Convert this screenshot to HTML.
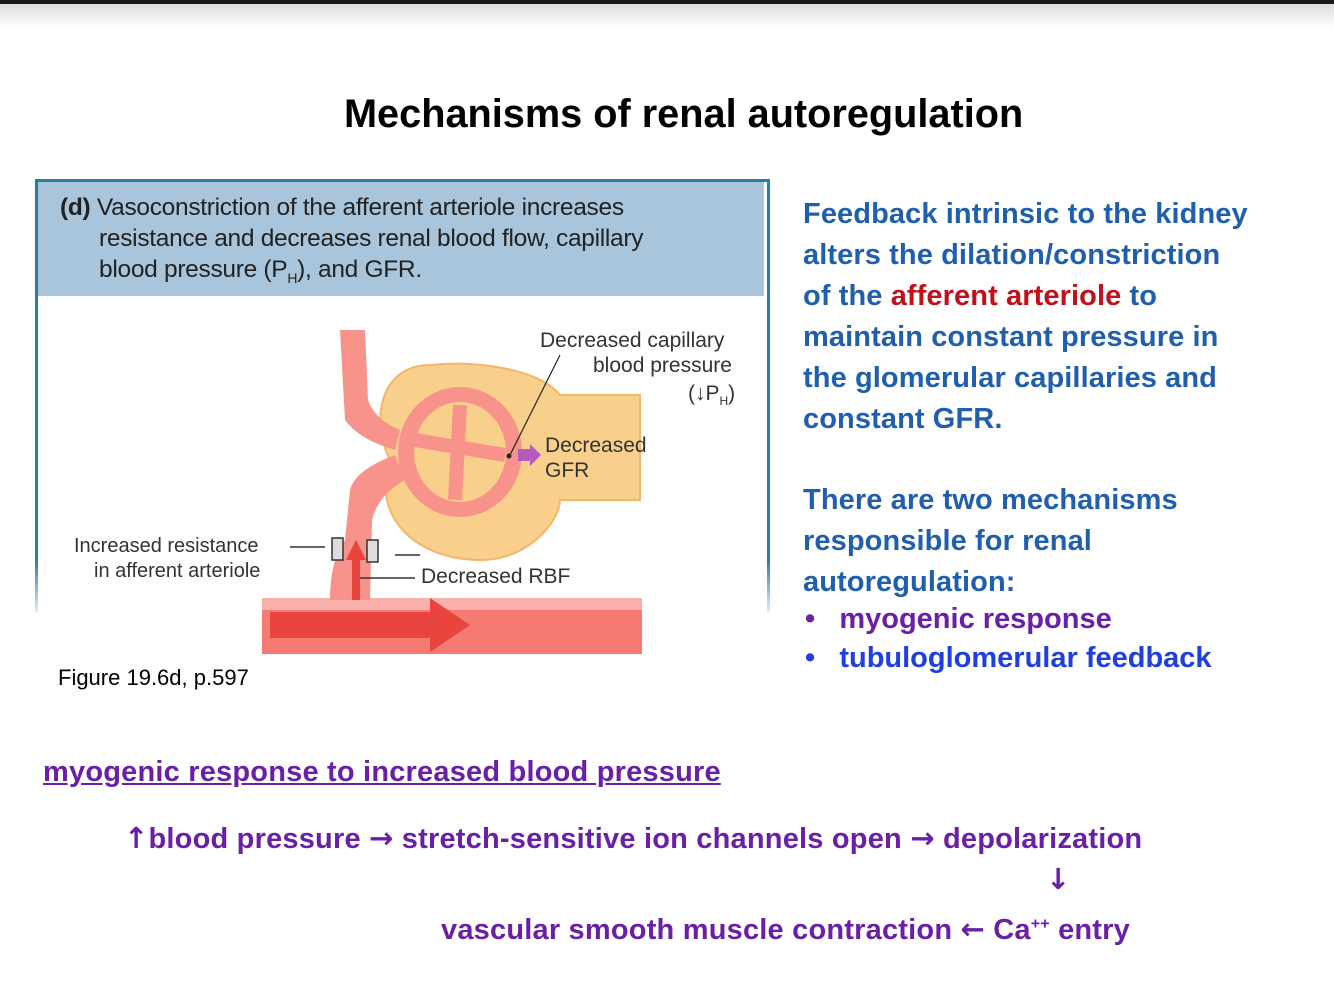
<!DOCTYPE html>
<html><head><meta charset="utf-8"><style>
body{margin:0;width:1334px;height:997px;background:#fff;position:relative;overflow:hidden;font-family:"Liberation Sans",sans-serif}
.top{position:absolute;left:0;top:0;width:1334px;height:4px;background:#1a1a1a}
.shadow{position:absolute;left:0;top:4px;width:1334px;height:24px;background:linear-gradient(#ddd,#fff)}
.t{position:absolute;white-space:nowrap}
.r{font-weight:bold;font-size:29px;color:#1f5fae;letter-spacing:0.1px}
.p{color:#6a1fa8;font-weight:bold;font-size:29px;letter-spacing:0.2px}
.a{font-family:"DejaVu Sans",sans-serif;font-weight:bold}
</style></head><body>
<div class="top"></div><div class="shadow"></div>
<div class="t" style="left:344px;top:92px;font-size:39.7px;font-weight:bold;color:#000">Mechanisms of renal autoregulation</div>

<div style="position:absolute;left:35px;top:179px;width:729px;height:430px;border:3px solid #2a7f9a;border-bottom:none;"></div>
<div style="position:absolute;left:38px;top:182px;width:726px;height:114px;background:#a9c5dc"></div>
<div style="position:absolute;left:30px;top:560px;width:745px;height:60px;background:linear-gradient(rgba(255,255,255,0),#fff)"></div>
<div class="t" style="left:60px;top:192px;font-size:24.5px;color:#222;line-height:31px;letter-spacing:-0.3px"><b>(d)</b> Vasoconstriction of the afferent arteriole increases<br>&nbsp;&nbsp;&nbsp;&nbsp;&nbsp;&nbsp;resistance and decreases renal blood flow, capillary<br>&nbsp;&nbsp;&nbsp;&nbsp;&nbsp;&nbsp;blood pressure (P<sub style="font-size:14px">H</sub>), and GFR.</div>

<svg style="position:absolute;left:0;top:0" width="1334" height="997">
<path d="M430 365 C380 365 370 420 390 460 C370 520 420 560 480 560 C530 560 560 520 560 500 L640 500 L640 395 L560 395 C540 370 480 360 430 365Z" fill="#f9cf8c" stroke="#f2b76a" stroke-width="2"/>
<rect x="262" y="598" width="380" height="56" fill="#f47a72"/>
<rect x="262" y="598" width="380" height="12" fill="#f9b0aa"/>
<path d="M270 612 L430 612 L430 598 L470 625 L430 652 L430 638 L270 638Z" fill="#e9443e"/>
<path d="M340 330 L365 330 L368 400 Q375 420 400 430 L395 450 Q360 440 345 420Z" fill="#f7938b"/>
<path d="M330 600 Q330 560 345 540 L350 490 Q355 470 395 455 L405 480 Q378 495 372 520 L370 600Z" fill="#f7938b"/>
<path d="M352 600 L352 560 L346 560 L356 540 L366 560 L360 560 L360 600Z" fill="#e9443e"/>
<ellipse cx="460" cy="452" rx="62" ry="65" fill="#f7938b"/>
<ellipse cx="460" cy="452" rx="46" ry="50" fill="#f9cf8c"/>
<path d="M415 440 L505 455 M460 405 L455 500" stroke="#f7938b" stroke-width="14"/>
<rect x="332" y="538" width="11" height="22" fill="#ddd" stroke="#333" stroke-width="1.5"/>
<rect x="367" y="540" width="11" height="22" fill="#ddd" stroke="#333" stroke-width="1.5"/>
<path d="M290 547 L325 547 M395 555 L420 555" stroke="#333" stroke-width="1.5"/>
<path d="M360 578 L415 578" stroke="#333" stroke-width="1.5"/>
<path d="M560 355 L510 455" stroke="#222" stroke-width="1.2"/>
<circle cx="509" cy="456" r="2.5" fill="#222"/>
<path d="M518 449 L530 449 L530 444 L541 455 L530 466 L530 461 L518 461Z" fill="#b45bbd"/>
</svg>
<div class="t" style="left:540px;top:329px;font-size:21px;color:#333">Decreased capillary</div>
<div class="t" style="left:593px;top:354px;font-size:21px;color:#333">blood pressure</div>
<div class="t" style="left:688px;top:382px;font-size:21px;color:#333">(↓P<sub style="font-size:12px">H</sub>)</div>
<div class="t" style="left:545px;top:433px;font-size:21px;color:#333;line-height:25px">Decreased<br>GFR</div>
<div class="t" style="left:74px;top:535px;font-size:20px;color:#333">Increased resistance</div>
<div class="t" style="left:94px;top:560px;font-size:20px;color:#333">in afferent arteriole</div>
<div class="t" style="left:421px;top:565px;font-size:21px;color:#333">Decreased RBF</div>
<div class="t" style="left:58px;top:665px;font-size:22px;color:#000">Figure 19.6d, p.597</div>

<div class="t r" style="left:803px;top:194px;line-height:41px">Feedback intrinsic to the kidney<br>alters the dilation/constriction<br>of the <span style="color:#c0101a">afferent arteriole</span> to<br>maintain constant pressure in<br>the glomerular capillaries and<br>constant GFR.</div>
<div class="t r" style="left:803px;top:480px;line-height:41px">There are two mechanisms<br>responsible for renal<br>autoregulation:</div>
<div class="t" style="left:805px;top:603px;font-size:29px;font-weight:bold;color:#6a1fa8">•&nbsp;&nbsp;&nbsp;myogenic response</div>
<div class="t" style="left:805px;top:642px;font-size:29px;font-weight:bold;color:#1f3fe0">•&nbsp;&nbsp;&nbsp;tubuloglomerular feedback</div>

<div class="t p" style="left:43px;top:756px;text-decoration:underline">myogenic response to increased blood pressure</div>
<div class="t p" style="left:124px;top:821px"><span class="a">↑</span>blood pressure <span class="a">→</span> stretch-sensitive ion channels open <span class="a">→</span> depolarization</div>
<div class="t p a" style="left:1046px;top:862px">↓</div>
<div class="t p" style="left:441px;top:912px">vascular smooth muscle contraction <span class="a">←</span> Ca<sup style="font-size:16px">++</sup> entry</div>
</body></html>
